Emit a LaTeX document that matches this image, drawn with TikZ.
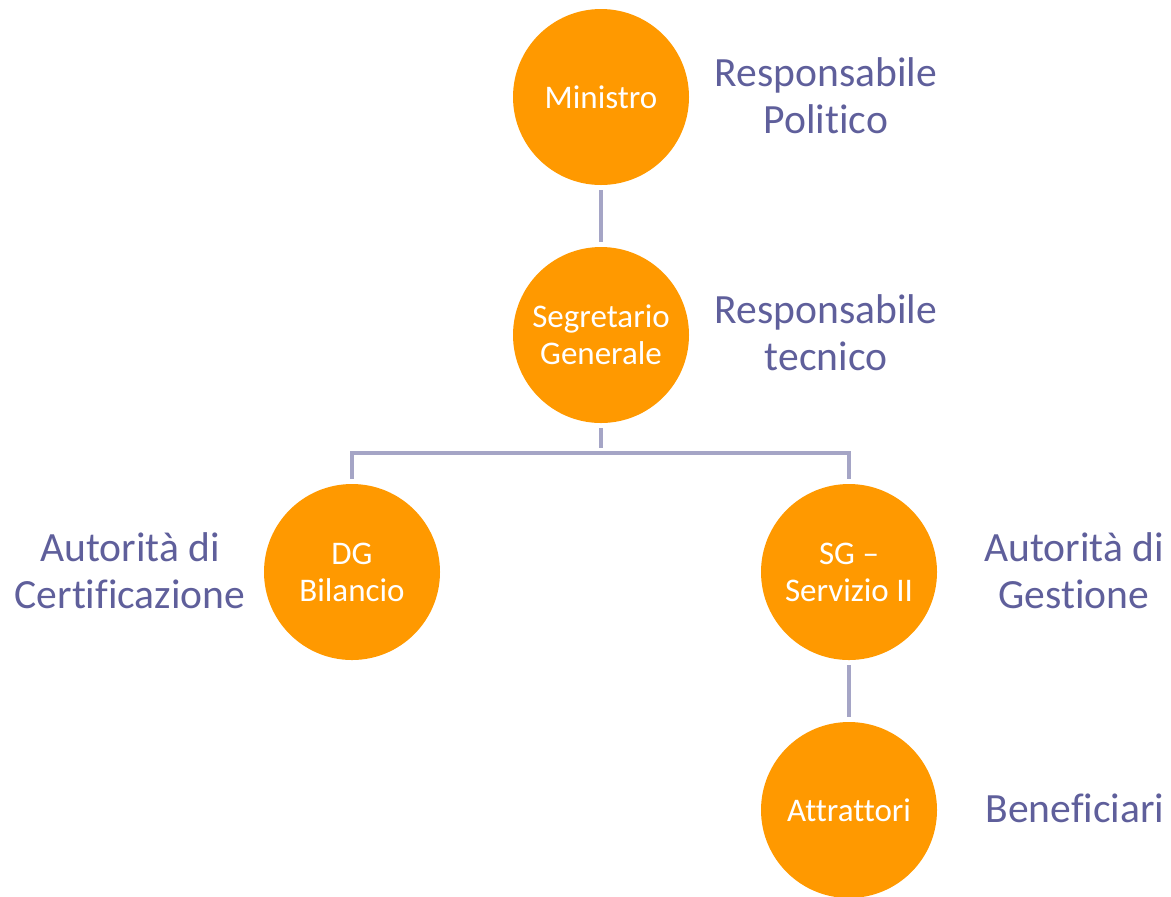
\documentclass[tikz,border=0pt]{standalone}
\usepackage{fontspec}
\setmainfont{Carlito}[Ligatures={NoCommon,NoRare,NoDiscretionary}]
\usepackage{tikz}
\usetikzlibrary{positioning}
\definecolor{cerchio}{RGB}{255,153,0}
\definecolor{etichetta}{RGB}{95,95,155}
\definecolor{linea}{RGB}{165,165,198}

\begin{document}
\begin{tikzpicture}[x=.5pt, y=-.5pt,
	ente/.style = {circle, fill=cerchio, minimum size=88pt, inner sep=0pt, text=white, align=center, font=\fontsize{16.5}{18.6}\selectfont},
	ruolo/.style = {text=etichetta, align=center, font=\fontsize{20.8}{23.5}\selectfont},
	conn/.style = {draw=linea, line width=2.3pt, shorten <=2.5pt, shorten >=2.5pt}]
	\useasboundingbox (0,0) rectangle (1171,896);
	\node[ente] (min) at (601,97) {Ministro};
	\node[ente] (seg) at (601,335) {Segretario\\Generale};
	\node[ente] (dg) at (352,572) {DG\\Bilancio};
	\node[ente] (sgii) at (849,572) {SG --\\Servizio II};
	\node[ente] (attr) at (849,810) {Attrattori};
	\node[ruolo] (rpol) at (826,96) {Responsabile\\Politico};
	\node[ruolo] (rtec) at (826,333) {Responsabile\\tecnico};
	\node[ruolo] (acert) at (130,571) {Autorità di\\Certificazione};
	\node[ruolo] (agest) at (1074,571) {Autorità di\\Gestione};
	\node[ruolo] (benef) at (1075,808) {Beneficiari};
	\coordinate (fork) at (601,453);
	\draw[conn] (min) -- (seg);
	\draw[conn] (seg) -- (fork);
	\draw[conn] (dg.north) |- (fork) -| (sgii.north);
	\draw[conn] (sgii) -- (attr);
\end{tikzpicture}
\end{document}
